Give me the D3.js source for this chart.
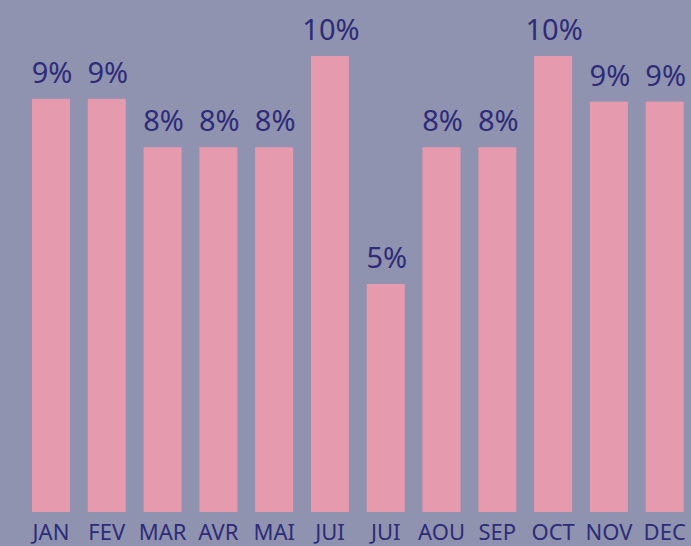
<!DOCTYPE html>
<html>
<head>
<meta charset="utf-8">
<script src="https://cdn.jsdelivr.net/npm/d3@7"></script>
<style>
  html, body { margin: 0; padding: 0; background: #8f93b0; overflow: hidden; }
</style>
</head>
<body>
<div id="chart"></div>
<script>
const WIDTH = 691;
const HEIGHT = 546;

const BG = '#8f93b0';
const BAR = '#e59aad';
const TEXT = '#2e2b78';

// monthly share (%)
const months = ['JAN', 'FEV', 'MAR', 'AVR', 'MAI', 'JUIN', 'JUIL', 'AOU', 'SEP', 'OCT', 'NOV', 'DEC'];
const tickLabels = ['JAN', 'FEV', 'MAR', 'AVR', 'MAI', 'JUI', 'JUI', 'AOU', 'SEP', 'OCT', 'NOV', 'DEC'];
const values = [9.06, 9.06, 8.0, 8.0, 8.0, 10.0, 5.0, 8.0, 8.0, 10.0, 9.0, 9.0];
const valueLabels = ['9%', '9%', '8%', '8%', '8%', '10%', '5%', '8%', '8%', '10%', '9%', '9%'];

var svg = d3.select("#chart").append("svg")
    .attr("width", WIDTH)
    .attr("height", HEIGHT)
    .style("display", "block");

svg.append("rect")
    .attr("width", WIDTH)
    .attr("height", HEIGHT)
    .attr("fill", BG);

var xScale = d3.scaleBand()
    .domain(months)
    .range([32, 683.7])
    .paddingInner(0.319)
    .paddingOuter(0);

var yScale = d3.scaleLinear()
    .domain([0, 10])
    .range([512, 56]);

svg.selectAll("rect.bar")
    .data(values)
    .enter()
    .append("rect")
        .attr("class", "bar")
        .attr("x", (d, i) => xScale(months[i]))
        .attr("y", d => yScale(d))
        .attr("width", xScale.bandwidth())
        .attr("height", d => yScale(0) - yScale(d))
        .attr("fill", BAR);

svg.selectAll("text.val")
    .data(values)
    .enter()
    .append("text")
        .attr("class", "val")
        .attr("x", (d, i) => xScale(months[i]) + xScale.bandwidth() / 2 + 1)
        .attr("y", d => yScale(d) - 16)
        .attr("text-anchor", "middle")
        .attr("font-family", "'Noto Sans', sans-serif")
        .attr("font-size", "29px")
        .attr("fill", TEXT)
        .text((d, i) => valueLabels[i]);

var xAxis = d3.axisBottom(xScale)
    .tickSize(0)
    .tickPadding(0)
    .tickFormat((d, i) => tickLabels[i]);

var axisG = svg.append("g")
    .attr("transform", "translate(0,512)")
    .call(xAxis);

axisG.select(".domain").remove();
axisG.selectAll("text")
    .attr("y", 28)
    .attr("dy", 0)
    .attr("font-family", "'Noto Sans', sans-serif")
    .attr("font-size", "22px")
    .attr("fill", TEXT);
</script>
</body>
</html>
